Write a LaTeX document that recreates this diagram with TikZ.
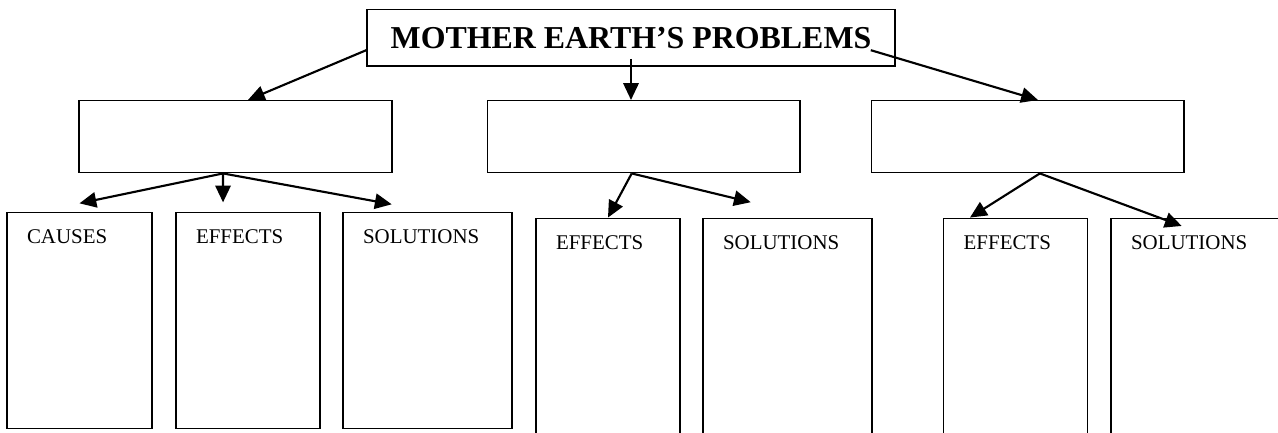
\documentclass[tikz,border=0pt]{standalone}
\usepackage{fontspec}
\setmainfont{Liberation Serif}
\usetikzlibrary{arrows.meta}

\begin{document}
\begin{tikzpicture}[x=1in,y=1in,
  box/.style={draw, line width=1.1pt, inner sep=0pt, minimum height=0.7500in},
  leaf/.style={draw, line width=1.1pt, inner sep=0pt},
  tag/.style={inner sep=0pt, anchor=base west, font=\fontsize{15.75}{18}\selectfont},
  arr/.style={line width=1.6pt, -{Triangle[length=0.1750in,width=0.1600in]}}]
\useasboundingbox (0,0) rectangle (13.3125,-4.5104);
\clip (0,0) rectangle (13.3125,-4.5104);
% title
\node[draw, line width=1.1pt, inner sep=0pt, minimum width=5.5000in, minimum height=0.5906in,
  font=\bfseries\fontsize{24}{28}\selectfont] (top) at (6.5729,-0.3927) {MOTHER EARTH’S PROBLEMS};
% middle row
\node[box, minimum width=3.2604in] (b1) at (2.4531,-1.4240) {};
\node[box, minimum width=3.2573in] (b2) at (6.7052,-1.4240) {};
\node[box, minimum width=3.2530in] (b3) at (10.7070,-1.4240) {};
% bottom row
\node[leaf, minimum width=1.5104in, minimum height=2.2500in] (c1) at (0.8281,-3.3406) {};
\node[leaf, minimum width=1.5000in, minimum height=2.2500in] (c2) at (2.5833,-3.3406) {};
\node[leaf, minimum width=1.7604in, minimum height=2.2500in] (c3) at (4.4531,-3.3406) {};
\node[leaf, minimum width=1.5000in, minimum height=2.4135in] (d1) at (6.3333,-3.4807) {};
\node[leaf, minimum width=1.7604in, minimum height=2.4135in] (d2) at (8.2031,-3.4807) {};
\node[leaf, minimum width=1.5000in, minimum height=2.4135in] (e1) at (10.5799,-3.4807) {};
\node[leaf, minimum width=1.7604in, minimum height=2.4135in] (e2) at (12.4531,-3.4807) {};
\node[tag] (c1t) at ([shift={(0.2135,-0.3300)}]c1.north west) {CAUSES};
\node[tag] (c2t) at ([shift={(0.2135,-0.3300)}]c2.north west) {EFFECTS};
\node[tag] (c3t) at ([shift={(0.2135,-0.3300)}]c3.north west) {SOLUTIONS};
\node[tag] (d1t) at ([shift={(0.2135,-0.3300)}]d1.north west) {EFFECTS};
\node[tag] (d2t) at ([shift={(0.2135,-0.3300)}]d2.north west) {SOLUTIONS};
\node[tag] (e1t) at ([shift={(0.2135,-0.3300)}]e1.north west) {EFFECTS};
\node[tag] (e2t) at ([shift={(0.2135,-0.3300)}]e2.north west) {SOLUTIONS};
% branch points
\coordinate (p1) at ([xshift=-0.1300in]b1.south);
\coordinate (p2) at ([xshift=-0.1250in]b2.south);
\coordinate (p3) at ([xshift=0.1250in]b3.south);
% arrows
\draw[arr] ([yshift=-0.1300in]top.west) -- ([xshift=0.1300in]b1.north);
\draw[arr] ([yshift=-0.2200in]top.center) -- (top.center |- b2.north);
\draw[arr] ([shift={(-0.2600,-0.1300)}]top.east) -- ([xshift=0.1050in]b3.north);
\draw[arr] (p1) -- ([yshift=0.0900in]c1.north);
\draw[arr] (p1) -- ([shift={(-0.2600,0.1000)}]c2.north);
\draw[arr] (p1) -- ([shift={(-0.3730,0.0800)}]c3.north);
\draw[arr] (p2) -- (d1.north);
\draw[arr] (p2) -- ([shift={(-0.3830,0.1600)}]d2.north);
\draw[arr] (p3) -- ([xshift=-0.4760in]e1.north);
\draw[arr] (p3) -- ([shift={(-0.1440,-0.0875)}]e2.north);
\end{tikzpicture}
\end{document}
